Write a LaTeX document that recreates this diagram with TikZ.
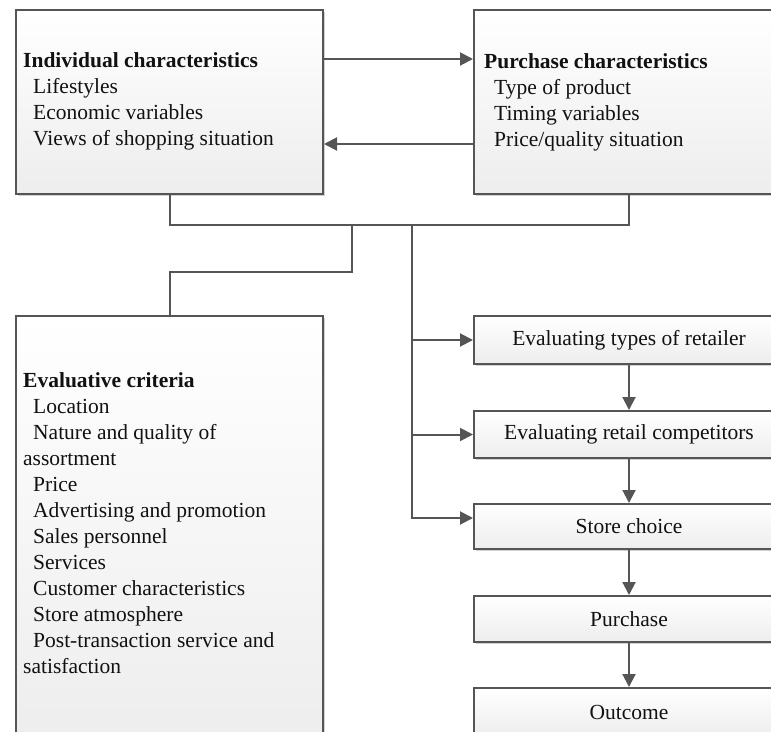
\documentclass[tikz,border=0pt]{standalone}
\usepackage{fontspec}
\setmainfont{Liberation Serif}
\usetikzlibrary{arrows.meta,shadows}
\definecolor{edge}{HTML}{555555}
\definecolor{ink}{HTML}{111111}
\newcommand\tabin{\hspace*{10pt}}
\begin{document}
\begin{tikzpicture}[x=1pt,y=-1pt,
  box/.style={draw=edge, line width=2pt, top color=white, bottom color=black!7,
    anchor=north west, inner sep=0pt, text=ink,
    drop shadow={shadow xshift=1.5pt, shadow yshift=-1.5pt, fill=black!35, opacity=.5},
    font=\fontsize{21.5}{26}\selectfont},
  stepbox/.style={box, minimum width=310pt},
  txt/.style={anchor=north west, inner sep=0pt, align=left, text=ink,
    font=\fontsize{21.5}{26}\selectfont},
  line/.style={draw=edge, line width=2pt},
  arr/.style={line, -{Triangle[length=13pt,width=13pt]}}]
\useasboundingbox (0,0) rectangle (771,731);
\clip (0,0) rectangle (771,731);
\fill[white] (0,0) rectangle (771,731);

% upper boxes
\node[box, minimum width=307pt, minimum height=184pt] (ind) at (15,9) {};
\node[box, minimum width=310pt, minimum height=184pt] (pur) at (473,9) {};
\node[txt] (indtxt) at (23,48.8) {\strut\textbf{Individual characteristics}\\
  \tabin Lifestyles\\ \tabin Economic variables\\ \tabin Views of shopping situation};
\node[txt] (purtxt) at (484,49.8) {\strut\textbf{Purchase characteristics}\\
  \tabin Type of product\\ \tabin Timing variables\\ \tabin Price/quality situation};

% evaluative criteria
\node[box, minimum width=307pt, minimum height=425pt] (eva) at (15,315) {};
\node[txt] (evatxt) at (23,368.8) {\strut\textbf{Evaluative criteria}\\
  \tabin Location\\
  \tabin Nature and quality of\\
  assortment\\
  \tabin Price\\
  \tabin Advertising and promotion\\
  \tabin Sales personnel\\
  \tabin Services\\
  \tabin Customer characteristics\\
  \tabin Store atmosphere\\
  \tabin Post-transaction service and\\
  satisfaction};

% decision steps
\node[stepbox, minimum height=48pt] (etr) at (473,315) {Evaluating types of retailer};
\node[stepbox, minimum height=47pt] (erc) at (473,410) {Evaluating retail competitors};
\node[stepbox, minimum height=45pt] (sc)  at (473,503) {Store choice};
\node[stepbox, minimum height=46pt] (pu)  at (473,595) {Purchase};
\node[stepbox, minimum height=48pt] (out) at (473,687) {Outcome};

% connectors
\coordinate (rowA) at (0,59);
\coordinate (rowB) at (0,144);
\coordinate (bus) at (412,225);
\coordinate (tap) at (352,225);
\coordinate (jog) at (352,272);
\coordinate (rowC) at (0,518);

\draw[arr] (ind.east |- rowA) -- (pur.west |- rowA);
\draw[arr] (pur.west |- rowB) -- (ind.east |- rowB);
\draw[line] (ind.south) |- (bus) -| (pur.south);
\draw[line] (tap) -- (jog) -| (eva.north);
\draw[arr] (bus) |- (etr.west);
\draw[arr] (bus) |- (erc.west);
\draw[arr] (bus) |- (sc.west |- rowC);
\draw[arr] (etr.south) -- (erc.north);
\draw[arr] (erc.south) -- (sc.north);
\draw[arr] (sc.south) -- (pu.north);
\draw[arr] (pu.south) -- (out.north);
\end{tikzpicture}
\end{document}
